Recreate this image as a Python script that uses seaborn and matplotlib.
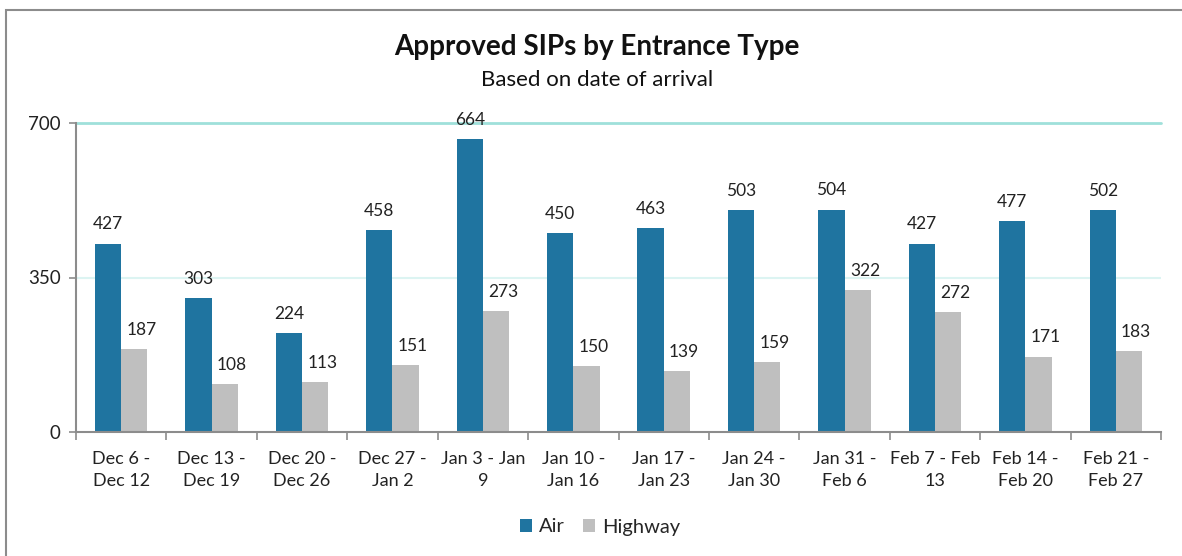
import matplotlib
matplotlib.use("Agg")
import matplotlib.pyplot as plt
import seaborn as sns
import pandas as pd
from matplotlib.patches import Rectangle
from matplotlib.ticker import FixedLocator

categories = ["Dec 6 -\nDec 12", "Dec 13 -\nDec 19", "Dec 20 -\nDec 26", "Dec 27 -\nJan 2",
              "Jan 3 - Jan\n9", "Jan 10 -\nJan 16", "Jan 17 -\nJan 23", "Jan 24 -\nJan 30",
              "Jan 31 -\nFeb 6", "Feb 7 - Feb\n13", "Feb 14 -\nFeb 20", "Feb 21 -\nFeb 27"]
air = [427, 303, 224, 458, 664, 450, 463, 503, 504, 427, 477, 502]
highway = [187, 108, 113, 151, 273, 150, 139, 159, 322, 272, 171, 183]
series = ["Air", "Highway"]
colors = ["#1f74a0", "#bfbfbf"]

df = pd.DataFrame({
    "week": categories * 2,
    "value": air + highway,
    "type": ["Air"] * len(air) + ["Highway"] * len(highway),
})

sns.set_theme(style="white")
plt.rcParams["font.family"] = ["Lato", "DejaVu Sans"]

fig = plt.figure(figsize=(11.82, 5.56), dpi=100)
fig.patches.append(Rectangle((6 / 1182, -0.1), 1.2, (556 - 10) / 556 + 0.1,
                             transform=fig.transFigure, fill=False,
                             edgecolor="#8c8c8c", linewidth=1.5, zorder=0))
ax = fig.add_axes([76 / 1182, 1 - 432 / 556, (1161 - 76) / 1182, (432 - 123) / 556])

sns.barplot(data=df, x="week", y="value", hue="type", hue_order=series,
            palette=colors, width=0.58, saturation=1, ax=ax, legend=True,
            edgecolor="none")

ax.set_ylim(0, 700)
ax.set_xlim(-0.5, len(categories) - 0.5)
ax.set_yticks([0, 350, 700])
ax.set_yticklabels(["0", "350", "700"], fontsize=13.5, color="#222222")
ax.set_xlabel("")
ax.set_ylabel("")
ax.tick_params(axis="x", which="major", length=0, labelsize=13, pad=14, labelcolor="#222222")
for lab in ax.get_xticklabels():
    lab.set_linespacing(1.45)
ax.xaxis.set_minor_locator(FixedLocator([i - 0.5 for i in range(len(categories) + 1)]))
ax.tick_params(axis="x", which="minor", length=6, width=1.2, color="#8c8c8c", direction="out", bottom=True)
ax.tick_params(axis="y", length=5, width=1.2, color="#8c8c8c", left=True, pad=6)

ax.axhline(350, color="#dcf4f2", linewidth=1.5, zorder=0)
ax.axhline(700, color="#9fe0da", linewidth=2, zorder=0, clip_on=False)

for s in ["top", "right"]:
    ax.spines[s].set_visible(False)
for s in ["left", "bottom"]:
    ax.spines[s].set_color("#8c8c8c")
    ax.spines[s].set_linewidth(1.5)

for ci, cont in enumerate(ax.containers):
    for bar in cont:
        h = bar.get_height()
        xc = bar.get_x() + bar.get_width() / 2 + (0.08 if ci == 1 else 0)
        ax.annotate(f"{int(round(h))}", (xc, h), xytext=(0, 8), textcoords="offset points",
                    ha="center", va="bottom", fontsize=12.5, color="#222222")

leg = ax.legend(loc="center", bbox_to_anchor=(0.483, (1 - 527 / 556 - (1 - 432 / 556)) / ((432 - 123) / 556)),
                ncol=2, frameon=False, fontsize=14.5, handlelength=0.6, handleheight=0.6,
                handletextpad=0.35, columnspacing=0.9)

fig.text(597 / 1182, 1 - 47 / 556, "Approved SIPs by Entrance Type", ha="center", va="center",
         fontsize=20, fontweight="bold", color="#111111")
fig.text(597 / 1182, 1 - 80 / 556, "Based on date of arrival", ha="center", va="center",
         fontsize=16, color="#111111")

fig.savefig("out.png", dpi=100)
